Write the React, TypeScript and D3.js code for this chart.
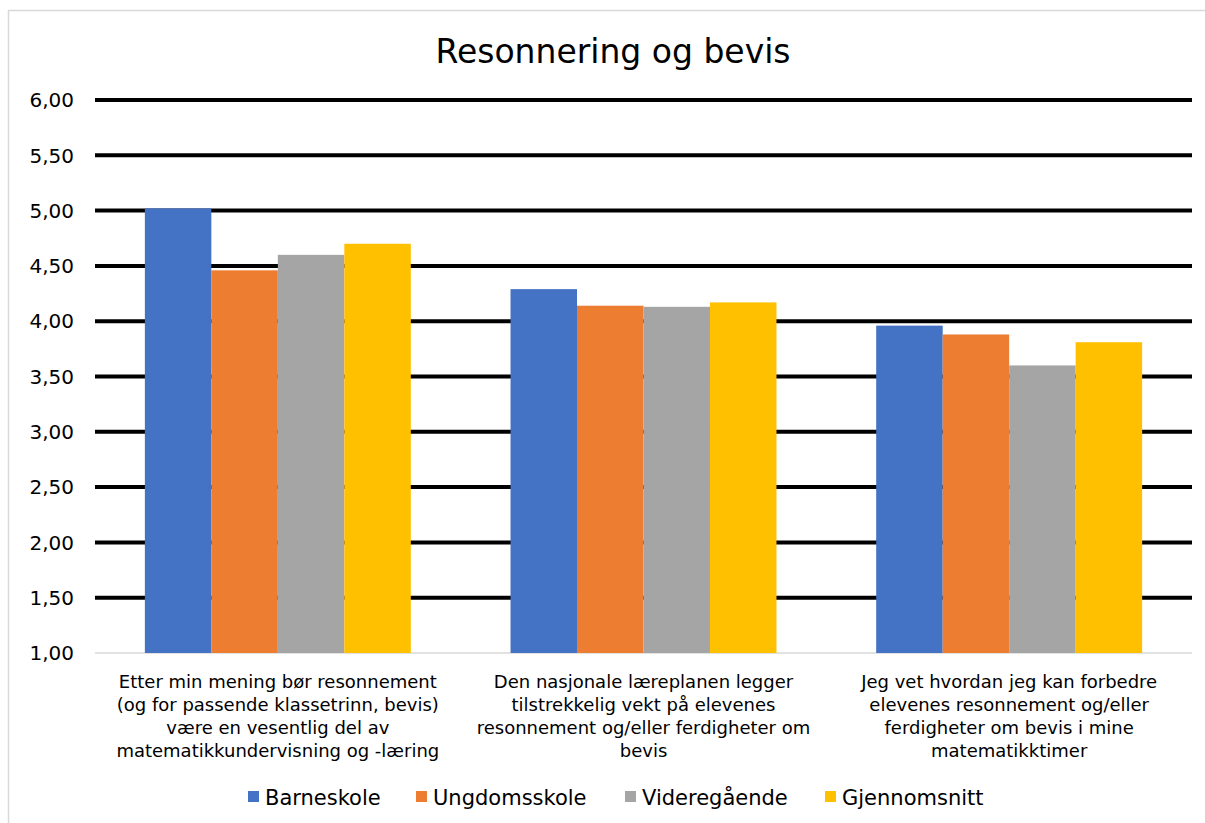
import React from "react";
import * as d3 from "d3";

const categories: string[][] = [
  ["Etter min mening bør resonnement", "(og for passende klassetrinn, bevis)", "være en vesentlig del av", "matematikkundervisning og -læring"],
  ["Den nasjonale læreplanen legger", "tilstrekkelig vekt på elevenes", "resonnement og/eller ferdigheter om", "bevis"],
  ["Jeg vet hvordan jeg kan forbedre", "elevenes resonnement og/eller", "ferdigheter om bevis i mine", "matematikktimer"],
];

const seriesNames = ["Barneskole", "Ungdomsskole", "Videregående", "Gjennomsnitt"];
const seriesColors = ["#4472C4", "#ED7D31", "#A5A5A5", "#FFC000"];

const barneskole = [5.02, 4.29, 3.96];
const ungdomsskole = [4.46, 4.14, 3.88];
const videregaende = [4.6, 4.13, 3.6];
const gjennomsnitt = [4.7, 4.17, 3.81];
const seriesValues = [barneskole, ungdomsskole, videregaende, gjennomsnitt];

const yTicks = [1, 1.5, 2, 2.5, 3, 3.5, 4, 4.5, 5, 5.5, 6];

const FONT = "'DejaVu Sans', Verdana, sans-serif";

export default function App() {
  const W = 1205;
  const H = 823;
  const plotLeft = 95;
  const plotRight = 1192;
  const plotTop = 100;
  const plotBottom = 653;

  const y = d3.scaleLinear().domain([1, 6]).range([plotBottom, plotTop]);
  const x0 = d3
    .scaleBand<number>()
    .domain(categories.map((_, i) => i))
    .range([plotLeft, plotRight])
    .paddingInner(0)
    .paddingOuter(0);
  const groupW = x0.bandwidth();
  const barW = groupW / (4 + 1.5);
  const x1 = d3
    .scaleBand<number>()
    .domain(seriesNames.map((_, i) => i))
    .range([barW * 0.75, groupW - barW * 0.75]);

  const fmt = (v: number) => d3.format(".2f")(v).replace(".", ",");

  const legendX = [248, 416, 625, 825];

  return (
    <svg
      width={W}
      height={H}
      style={{ position: "absolute", left: 0, top: 0, background: "#fff" }}
      fontFamily={FONT}
    >
      <rect x={8.5} y={10.5} width={W + 10} height={H + 10} fill="#fff" stroke="#d9d9d9" strokeWidth={1.5} />
      <text x={613} y={63} textAnchor="middle" fontSize={33} fill="#000">
        Resonnering og bevis
      </text>

      {yTicks.map((t) => (
        <g key={t}>
          {t > 1 ? (
            <line x1={plotLeft} x2={plotRight} y1={y(t)} y2={y(t)} stroke="#000" strokeWidth={4} />
          ) : (
            <line x1={plotLeft} x2={plotRight} y1={y(t)} y2={y(t)} stroke="#d9d9d9" strokeWidth={1.5} />
          )}
          <text x={74} y={y(t)} dy="0.36em" textAnchor="end" fontSize={20} fill="#000">
            {fmt(t)}
          </text>
        </g>
      ))}

      {categories.map((_, ci) => (
        <g key={ci} transform={`translate(${x0(ci)},0)`}>
          {seriesValues.map((vals, si) => (
            <rect
              key={si}
              x={x1(si)}
              y={y(vals[ci])}
              width={x1.bandwidth()}
              height={y(1) - y(vals[ci])}
              fill={seriesColors[si]}
            />
          ))}
        </g>
      ))}

      {categories.map((lines, ci) => (
        <text key={ci} textAnchor="middle" fontSize={18} fill="#000">
          {lines.map((ln, li) => (
            <tspan key={li} x={(x0(ci) as number) + groupW / 2} y={688 + li * 23}>
              {ln}
            </tspan>
          ))}
        </text>
      ))}

      {seriesNames.map((name, si) => (
        <g key={name}>
          <rect x={legendX[si]} y={791} width={11} height={11} fill={seriesColors[si]} />
          <text x={legendX[si] + 17} y={797} dy="0.36em" fontSize={21} fill="#000">
            {name}
          </text>
        </g>
      ))}
    </svg>
  );
}
